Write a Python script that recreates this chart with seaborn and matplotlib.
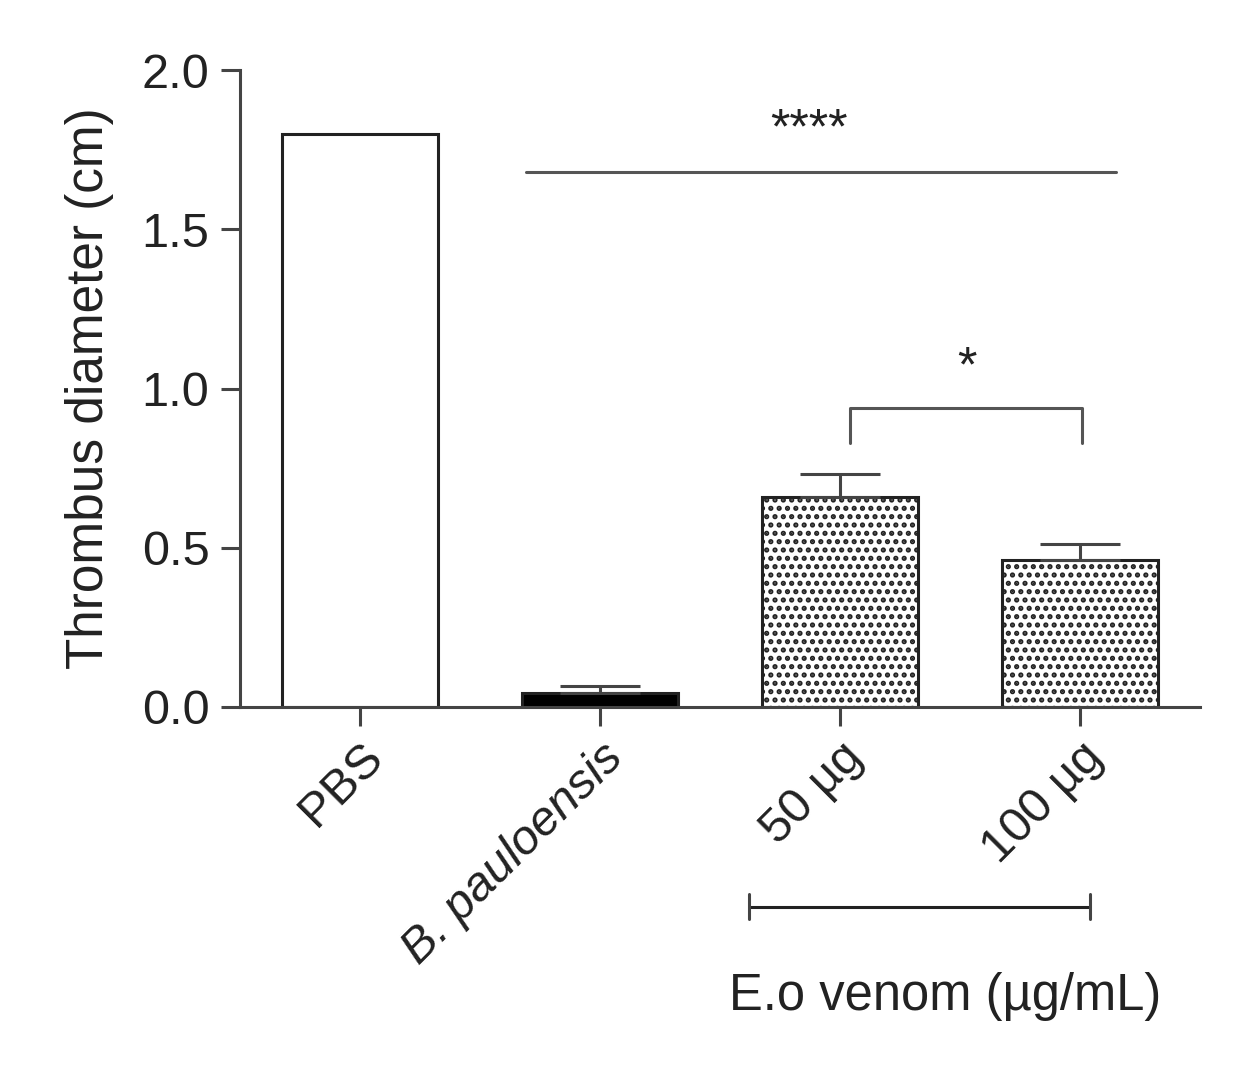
import numpy as np
import pandas as pd
import seaborn as sns
from matplotlib import pyplot as plt
from matplotlib import transforms

groups = ['PBS', 'B. pauloensis', '50 µg', '100 µg']
means = [1.80, 0.044, 0.66, 0.46]
errs = [0.0, 0.022, 0.07, 0.05]
fills = ['white', 'black', 'white', 'white']
hatches = ['', '', '..', '..']

sns.set_style('ticks')
plt.rcParams['font.family'] = ['Liberation Sans', 'DejaVu Sans']
plt.rcParams['hatch.color'] = 'black'
plt.rcParams['hatch.linewidth'] = 2.5

df = pd.DataFrame({'group': groups, 'mean': means})

fig = plt.figure(figsize=(12.5, 10.66), dpi=100)
ax = fig.add_axes([0.192, 0.337, 0.768, 0.597])

sns.barplot(data=df, x='group', y='mean', hue='group', palette=fills,
            width=0.65, edgecolor='#222222', linewidth=2.2, errorbar=None,
            legend=False, ax=ax)
for p, h in zip(ax.patches, hatches):
    p.set_hatch(h)

# error bars, upper side only
xs = np.arange(len(groups))
ax.errorbar(xs[1:], means[1:], yerr=[np.zeros(3), errs[1:]], fmt='none',
            ecolor='#444444', elinewidth=2.2, capsize=29, capthick=2.2)

ax.set_xlim(-0.5, 3.5)
ax.set_ylim(0, 2.0)
ax.set_yticks([0, 0.5, 1.0, 1.5, 2.0])
ax.set_yticklabels(['0.0', '0.5', '1.0', '1.5', '2.0'])
ax.set_ylabel('Thrombus diameter (cm)', fontsize=37, color='#222222', labelpad=20)
ax.set_xlabel('')
ax.set_xticks(xs)
ax.set_xticklabels(groups, rotation=45, ha='right', rotation_mode='anchor')
ax.get_xticklabels()[1].set_fontstyle('italic')
ax.tick_params(axis='both', labelsize=35, labelcolor='#222222', color='#444444',
               width=2.2, length=14, pad=8)
ax.tick_params(axis='x', length=14, pad=6)
for s in ['left', 'bottom']:
    ax.spines[s].set_color('#444444')
    ax.spines[s].set_linewidth(2.2)
sns.despine(ax=ax)

# significance markers
ax.plot([0.69, 3.15], [1.68, 1.68], color='#555555', lw=2.2)
ax.text(1.87, 1.74, '****', ha='center', va='bottom', fontsize=36, color='#222222')
ax.plot([2.04, 2.04, 3.01, 3.01], [0.83, 0.94, 0.94, 0.83], color='#555555', lw=2.2)
ax.text(2.53, 0.99, '*', ha='center', va='bottom', fontsize=36, color='#222222')

# group bracket under tick labels
trans = transforms.blended_transform_factory(ax.transData, ax.transAxes)
ax.plot([1.62, 3.04], [-0.314, -0.314], color='#222222', lw=2.2,
        transform=trans, clip_on=False)
for xb in [1.62, 3.04]:
    ax.plot([xb, xb], [-0.294, -0.334], color='#444444', lw=2.2,
            transform=trans, clip_on=False)
ax.text(2.44, -0.455, 'E.o venom (µg/mL)', ha='center', va='center',
        fontsize=36.5, color='#222222', transform=trans)

fig.savefig('out.png', dpi=100)
